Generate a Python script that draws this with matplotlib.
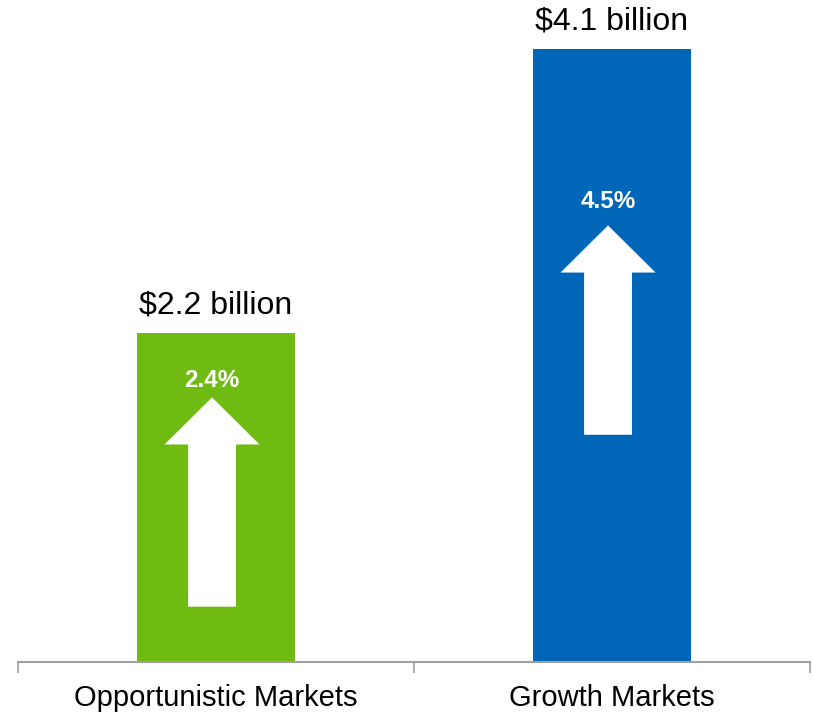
import matplotlib
matplotlib.use('Agg')
import matplotlib.pyplot as plt
from matplotlib.patches import FancyArrow

# Market size and growth by segment
categories = ['Opportunistic Markets', 'Growth Markets']
market_size = [2.2, 4.1]          # $ billion
growth_rate = [2.4, 4.5]          # % growth
bar_colors = ['#70bb12', '#0066b8']

# arrow placement inside each bar (bottom of the shaft, in data units)
arrow_base = [0.37, 1.52]
arrow_len = 1.40
label_gap = [7.5, 12.5]           # points between arrow tip and growth label

plt.rcParams['font.family'] = ['Liberation Sans', 'DejaVu Sans']

fig = plt.figure(figsize=(8.13, 7.14), dpi=100)
ax = fig.add_axes([18 / 813, 52 / 714, 792 / 813, 662 / 714])

x = [0.5, 1.5]
ax.bar(x, market_size, width=0.40, color=bar_colors, zorder=2)

for xi, size, rate, y0, gap in zip(x, market_size, growth_rate, arrow_base, label_gap):
    ax.annotate(f'${size} billion', (xi, size), xytext=(0, 14.4),
                textcoords='offset points', ha='center', va='baseline',
                fontsize=23, color='black')
    ax.add_patch(FancyArrow(xi - 0.01, y0, 0, arrow_len, width=0.121,
                            head_width=0.24, head_length=0.315,
                            length_includes_head=True, color='white',
                            lw=0, zorder=3))
    ax.annotate(f'{rate}%', (xi - 0.01, y0 + arrow_len), xytext=(0, gap),
                textcoords='offset points', ha='center', va='baseline',
                fontsize=17.5, fontweight='bold', color='white', zorder=4)

ax.set_xlim(0, 2)
ax.set_ylim(0, 662 / 149.5)

# category labels centred, tick marks on the boundaries
ax.set_xticks(x)
ax.set_xticklabels(categories, fontsize=21)
ax.tick_params(axis='x', which='major', length=0, pad=16)
ax.set_xticks([0, 1, 2], minor=True)
ax.tick_params(axis='x', which='minor', length=8, width=1.2, color='#a0a0a0')
ax.set_yticks([])

for side in ['top', 'right', 'left']:
    ax.spines[side].set_visible(False)
ax.spines['bottom'].set_color('#a0a0a0')
ax.spines['bottom'].set_linewidth(1.5)

fig.savefig('out.png', dpi=100)
plt.close(fig)
